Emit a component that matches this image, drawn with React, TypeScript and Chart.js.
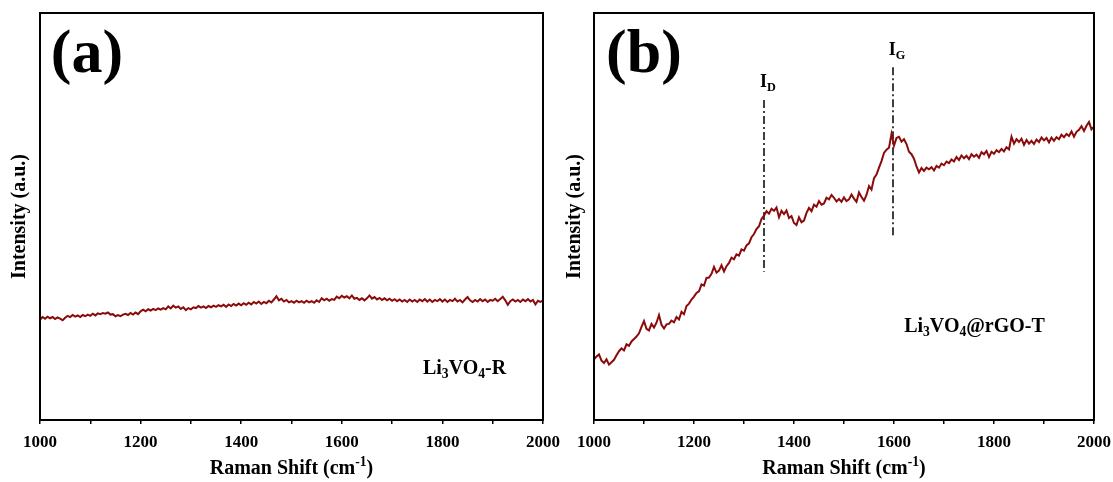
import { useEffect, useRef } from "react";
import { Chart, registerables } from "chart.js";

Chart.register(...registerables);

// Raman shift sampling grid (cm^-1)
const shiftStart = 1000;
const shiftStep = 5;
const xTickLabels = [1000, 1200, 1400, 1600, 1800, 2000];

// Panel (a): Li3VO4-R intensity (a.u.), one value per 5 cm^-1
const intensityR = [
  24.6, 25.3, 24.9, 25.4, 25.0, 25.3, 24.8, 25.2, 24.9, 24.5,
  25.1, 25.6, 25.3, 25.8, 25.4, 25.7, 25.3, 25.8, 25.5, 25.9,
  25.6, 26.1, 25.7, 26.2, 26.0, 26.3, 26.1, 26.4, 25.9, 26.0,
  25.5, 25.8, 25.5, 25.9, 26.1, 25.8, 26.3, 25.9, 26.4, 26.0,
  26.7, 27.1, 26.7, 27.2, 26.9, 27.3, 27.0, 27.4, 27.1, 27.5,
  27.2, 27.9, 27.4, 28.1, 27.6, 27.9, 27.3, 27.7, 27.0, 27.5,
  27.2, 27.7, 27.5, 28.0, 27.6, 27.9, 27.5, 28.0, 27.7, 28.1,
  27.8, 28.2, 27.9, 28.3, 27.8, 28.4, 28.0, 28.5, 28.1, 28.6,
  28.2, 28.7, 28.3, 28.8, 28.4, 29.0, 28.6, 29.1, 28.5, 29.0,
  28.7, 29.3, 28.9, 29.6, 30.4, 29.4, 29.8, 29.1, 29.5, 28.9,
  29.2, 28.8, 29.3, 28.9, 29.2, 28.8, 29.3, 28.9, 29.2, 28.8,
  29.4, 29.0, 29.9, 29.4, 29.8, 29.3, 29.7, 29.5, 30.3, 29.9,
  30.5, 30.1, 30.4, 29.9, 30.6, 29.8, 30.0, 29.5, 29.9, 29.4,
  29.9, 30.6, 29.8, 30.2, 29.6, 30.0, 29.5, 29.9, 29.4, 29.8,
  29.3, 29.7, 29.2, 29.6, 29.1, 29.5, 29.0, 29.6, 29.1, 29.5,
  29.0, 29.6, 29.2, 29.7, 29.1, 29.6, 29.0, 29.5, 29.2, 29.7,
  29.1, 29.6, 29.0, 29.5, 29.2, 29.8, 29.1, 29.5, 28.9, 29.6,
  30.2, 29.4, 29.0, 29.5, 29.1, 29.7, 29.2, 29.6, 29.0, 29.5,
  29.3, 29.8, 29.2, 29.7, 30.3, 29.4, 28.3, 29.2, 29.6, 29.1,
  29.5, 29.0, 29.6, 29.2, 29.7, 29.1, 29.5, 28.4, 29.3, 29.0,
  29.4,
];

// Panel (b): Li3VO4@rGO-T intensity (a.u.), one value per 5 cm^-1
const intensityT = [
  14.9, 15.6, 16.1, 14.6, 14.0, 14.9, 13.6, 14.2, 14.8, 15.9,
  16.9, 17.6, 17.1, 18.6, 18.2, 19.3, 19.9, 20.5, 21.3, 22.9,
  24.3, 22.4, 22.0, 23.6, 22.7, 23.9, 25.8, 23.4, 22.5, 23.5,
  23.6, 24.4, 24.0, 25.3, 24.7, 26.6, 26.0, 28.0, 28.6, 29.6,
  30.3, 31.2, 31.6, 33.3, 33.0, 34.9, 35.0, 35.9, 37.6, 36.2,
  36.7, 38.0, 36.5, 37.8, 38.6, 39.9, 39.5, 40.7, 40.4, 41.9,
  41.6, 42.9, 43.4, 44.9, 45.7, 46.9, 47.6, 49.4, 50.2, 51.3,
  50.7, 51.9, 51.4, 52.2, 49.8, 51.4, 50.6, 51.5, 49.6, 50.1,
  48.4, 47.9, 49.8, 48.6, 49.0, 50.9, 52.1, 51.3, 52.9, 52.4,
  53.8, 52.9, 53.2, 54.6, 54.2, 55.3, 54.6, 53.7, 54.3, 53.6,
  54.7, 53.8, 54.2, 55.4, 54.4, 53.6, 55.9, 54.8, 53.9, 55.3,
  57.5, 56.6, 59.4, 60.3, 62.0, 63.6, 65.6, 66.4, 66.9, 70.3,
  67.4, 69.3, 69.6, 68.4, 69.0, 67.8, 65.9, 65.3, 64.2, 62.3,
  60.8, 61.9, 61.2, 62.0, 61.6, 62.1, 61.3, 62.4, 62.0, 63.0,
  62.6, 63.5, 63.1, 64.0, 63.5, 64.6, 63.9, 65.0, 64.3, 64.9,
  64.1, 65.3, 64.7, 65.2, 64.4, 65.8, 65.3, 66.1, 64.6, 65.9,
  65.4, 66.3, 65.8, 66.6, 66.0, 67.0, 66.5, 69.6, 67.9, 69.0,
  68.3, 69.1, 67.6, 68.8, 67.9, 68.6, 67.8, 68.9, 68.3, 69.4,
  68.7, 69.3, 68.2, 69.4, 68.6, 69.5, 69.0, 70.1, 69.5, 70.3,
  69.8, 70.9, 69.6, 70.8, 71.3, 72.2, 71.0, 72.3, 73.2, 71.4,
  72.1,
];

// Peak markers in panel (b)
const peakNames = ["D", "G"];
const peakShifts = [1340, 1598];
const peakLineTop = [78.6, 86.7];
const peakLineBottom = [36.4, 44.7];
const peakLabelY = [81.8, 89.7];

const FONT = '"Liberation Serif", "Times New Roman", serif';
const LINE_COLOR = "#8B0A0A";

type Seg = { t: string; s?: "sub" | "sup" };

function drawRich(ctx: CanvasRenderingContext2D, segs: Seg[], x: number, y: number, size: number) {
  const f = (sz: number) => `bold ${sz}px ${FONT}`;
  const sizeOf = (sg: Seg) => (sg.s ? size * 0.68 : size);
  let w = 0;
  for (const sg of segs) {
    ctx.font = f(sizeOf(sg));
    w += ctx.measureText(sg.t).width;
  }
  let cx = x - w / 2;
  ctx.textAlign = "left";
  ctx.textBaseline = "alphabetic";
  ctx.fillStyle = "#000";
  for (const sg of segs) {
    ctx.font = f(sizeOf(sg));
    const dy = sg.s === "sub" ? size * 0.22 : sg.s === "sup" ? -size * 0.4 : 0;
    ctx.fillText(sg.t, cx, y + dy);
    cx += ctx.measureText(sg.t).width;
  }
}

const xTitle: Seg[] = [{ t: "Raman Shift (cm" }, { t: "-1", s: "sup" }, { t: ")" }];

function makeAnnotPlugin(opts: {
  letter: string;
  letterDx: number;
  yTitleX: number;
  sample: Seg[];
  sampleX: number;
  sampleY: number;
  peaks?: boolean;
}) {
  return {
    id: "annot",
    afterDraw(chart: any) {
      const ctx = chart.ctx as CanvasRenderingContext2D;
      const a = chart.chartArea;
      const xs = chart.scales.x;
      const ys = chart.scales.y;
      ctx.save();
      // frame
      ctx.strokeStyle = "#000";
      ctx.lineWidth = 2;
      ctx.strokeRect(a.left, a.top, a.right - a.left, a.bottom - a.top);
      // panel letter
      ctx.fillStyle = "#000";
      ctx.font = `bold 62px ${FONT}`;
      ctx.textAlign = "center";
      ctx.textBaseline = "alphabetic";
      ctx.fillText(opts.letter, a.left + opts.letterDx, a.top + 59);
      // x title
      drawRich(ctx, xTitle, (a.left + a.right) / 2, 474, 20);
      // y title
      ctx.save();
      ctx.translate(opts.yTitleX, (a.top + a.bottom) / 2);
      ctx.rotate(-Math.PI / 2);
      ctx.font = `bold 20px ${FONT}`;
      ctx.textAlign = "center";
      ctx.textBaseline = "middle";
      ctx.fillText("Intensity (a.u.)", 0, 0);
      ctx.restore();
      // sample label
      drawRich(ctx, opts.sample, xs.getPixelForValue(opts.sampleX), ys.getPixelForValue(opts.sampleY), 20);
      // peak labels
      if (opts.peaks) {
        peakNames.forEach((n, i) => {
          drawRich(
            ctx,
            [{ t: "I" }, { t: n, s: "sub" }],
            xs.getPixelForValue(peakShifts[i] + 8),
            ys.getPixelForValue(peakLabelY[i]),
            18
          );
        });
      }
      ctx.restore();
    },
  };
}

function makeConfig(values: number[], padRight: number, yWidth: number, plugin: any, peaks: boolean): any {
  const datasets: any[] = [
    {
      data: values.map((v, i) => ({ x: shiftStart + i * shiftStep, y: v })),
      borderColor: LINE_COLOR,
      borderWidth: 2,
      pointRadius: 0,
      tension: 0,
      fill: false,
    },
  ];
  if (peaks) {
    peakShifts.forEach((p, i) => {
      datasets.push({
        data: [
          { x: p, y: peakLineTop[i] },
          { x: p, y: peakLineBottom[i] },
        ],
        borderColor: "#000",
        borderWidth: 1.5,
        borderDash: [8, 3, 2, 3],
        pointRadius: 0,
        fill: false,
      });
    });
  }
  return {
    type: "line",
    data: { datasets },
    options: {
      animation: false,
      responsive: false,
      maintainAspectRatio: false,
      layout: { padding: { top: 13, right: padRight, left: 0, bottom: 0 } },
      plugins: { legend: { display: false }, tooltip: { enabled: false } },
      scales: {
        x: {
          type: "linear",
          min: 1000,
          max: 2000,
          afterFit: (s: any) => {
            s.height = 62;
            s.paddingLeft = 0;
            s.paddingRight = 0;
          },
          ticks: {
            stepSize: 100,
            autoSkip: false,
            maxRotation: 0,
            padding: 8,
            color: "#000",
            font: { family: FONT, size: 17, weight: "bold" },
            callback: (v: any) => (xTickLabels.includes(Number(v)) ? String(v) : ""),
          },
          grid: { drawOnChartArea: false, drawTicks: true, tickLength: 4, color: "#000", lineWidth: 1.5 },
          border: { display: true, color: "#000", width: 2 },
        },
        y: {
          type: "linear",
          min: 0,
          max: 100,
          afterFit: (s: any) => {
            s.width = yWidth;
          },
          ticks: { display: false },
          grid: { display: false, drawTicks: false },
          border: { display: true, color: "#000", width: 2 },
        },
      },
    },
    plugins: [plugin],
  };
}

export default function App() {
  const leftRef = useRef<HTMLCanvasElement>(null);
  const rightRef = useRef<HTMLCanvasElement>(null);

  useEffect(() => {
    const left = new Chart(
      leftRef.current!,
      makeConfig(
        intensityR,
        32,
        40,
        makeAnnotPlugin({
          letter: "(a)",
          letterDx: 47,
          yTitleX: 20,
          sample: [{ t: "Li" }, { t: "3", s: "sub" }, { t: "VO" }, { t: "4", s: "sub" }, { t: "-R" }],
          sampleX: 1844,
          sampleY: 11.3,
        }),
        false
      )
    );
    const right = new Chart(
      rightRef.current!,
      makeConfig(
        intensityT,
        19,
        38,
        makeAnnotPlugin({
          letter: "(b)",
          letterDx: 50,
          yTitleX: 19,
          sample: [{ t: "Li" }, { t: "3", s: "sub" }, { t: "VO" }, { t: "4", s: "sub" }, { t: "@rGO-T" }],
          sampleX: 1761,
          sampleY: 21.6,
          peaks: true,
        }),
        true
      )
    );
    return () => {
      left.destroy();
      right.destroy();
    };
  }, []);

  return (
    <div style={{ position: "absolute", left: 0, top: 0, width: 1113, height: 482, background: "#fff" }}>
      <canvas ref={leftRef} width={575} height={482} style={{ position: "absolute", left: 0, top: 0 }} />
      <canvas ref={rightRef} width={557} height={482} style={{ position: "absolute", left: 556, top: 0 }} />
    </div>
  );
}
